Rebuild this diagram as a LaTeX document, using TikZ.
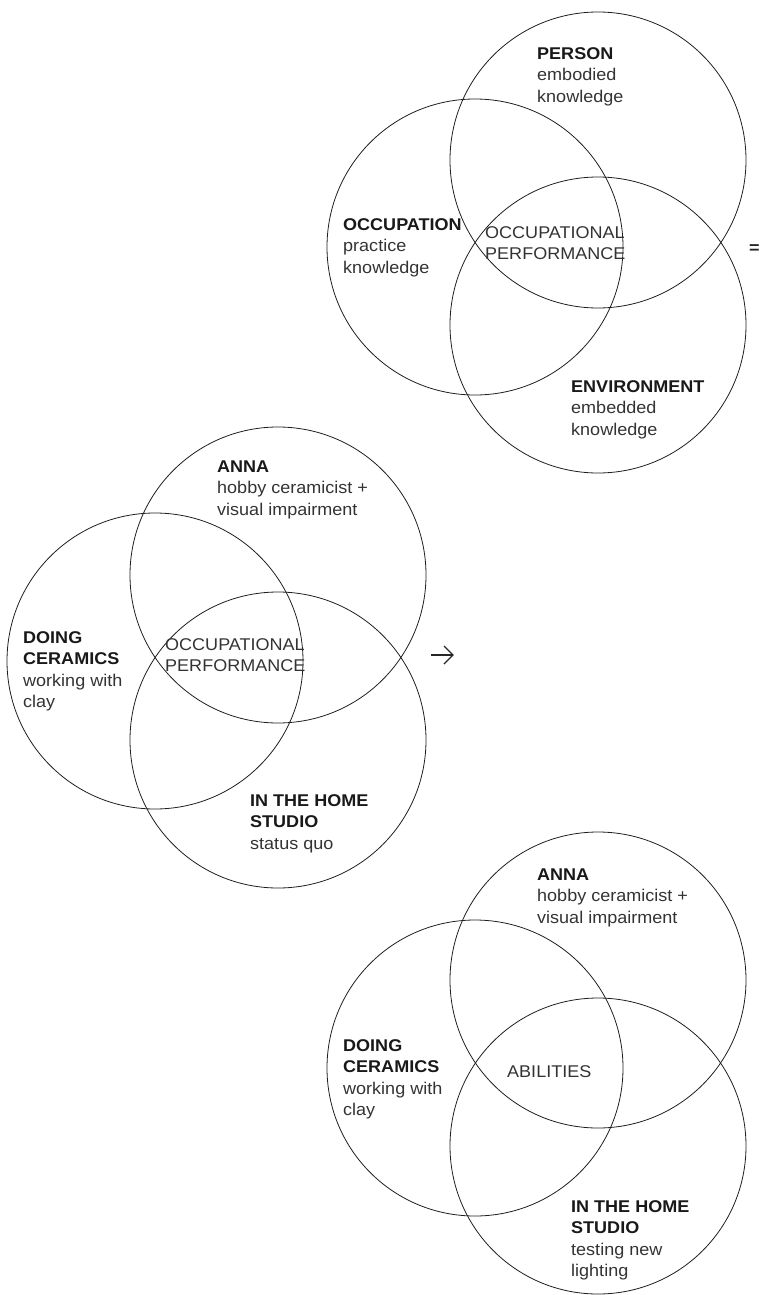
\documentclass[tikz,border=0pt]{standalone}
\usepackage{fontspec}
\setmainfont[FakeStretch=1.06]{Liberation Sans}
\begin{document}
\begin{tikzpicture}[x=1pt,y=-1pt,
  ring/.style={draw=black!88, line width=0.8pt},
  lbl/.style={anchor=north west, inner sep=0pt, align=left, text=black!80,
    font=\fontsize{17}{21.3}\selectfont},
  arrowline/.style={draw=black!85, line width=1.3pt}
]
\useasboundingbox (0,0) rectangle (763,1295);
\newcommand{\hdr}[1]{{\bfseries\color{black!90}#1}}
% top group
\draw[ring] (598,160) circle (148);
\draw[ring] (475,247) circle (148);
\draw[ring] (598,325) circle (148);
\node[lbl] (person) at (537,47.6) {\hdr{PERSON}\\embodied\\knowledge};
\node[lbl] (occ) at (343,218.6) {\hdr{OCCUPATION}\\practice\\knowledge};
\node[lbl] (perf1) at (485,226.6) {OCCUPATIONAL\\PERFORMANCE};
\node[lbl] (env) at (571,380.6) {\hdr{ENVIRONMENT}\\embedded\\knowledge};
\node[anchor=base west, inner sep=0pt, font=\fontsize{17}{20}\selectfont\bfseries, text=black!85] (eq) at (749,253) {=};
% middle group
\draw[ring] (278,575) circle (148);
\draw[ring] (155,661) circle (148);
\draw[ring] (278,740) circle (148);
\node[lbl] (anna1) at (217,460.6) {\hdr{ANNA}\\hobby ceramicist +\\visual impairment};
\node[lbl] (doing1) at (23,631.6) {\hdr{DOING}\\\hdr{CERAMICS}\\working with\\clay};
\node[lbl] (perf2) at (165,638.6) {OCCUPATIONAL\\PERFORMANCE};
\node[lbl] (home1) at (250,794.6) {\hdr{IN THE HOME}\\\hdr{STUDIO}\\status quo};
% arrow
\coordinate (arrs) at (431,655);
\coordinate (arrt) at (453,655);
\draw[arrowline] (arrs) -- (arrt);
\draw[arrowline, miter limit=4] ([shift={(-9,-9)}]arrt) -- (arrt) -- ([shift={(-9,9)}]arrt);
% bottom group
\draw[ring] (598,980) circle (148);
\draw[ring] (475,1068) circle (148);
\draw[ring] (598,1146) circle (148);
\node[lbl] (anna2) at (537,868.6) {\hdr{ANNA}\\hobby ceramicist +\\visual impairment};
\node[lbl] (doing2) at (343,1039.6) {\hdr{DOING}\\\hdr{CERAMICS}\\working with\\clay};
\node[lbl] (abil) at (507,1065.6) {ABILITIES};
\node[lbl] (home2) at (571,1200.6) {\hdr{IN THE HOME}\\\hdr{STUDIO}\\testing new\\lighting};
\end{tikzpicture}
\end{document}
